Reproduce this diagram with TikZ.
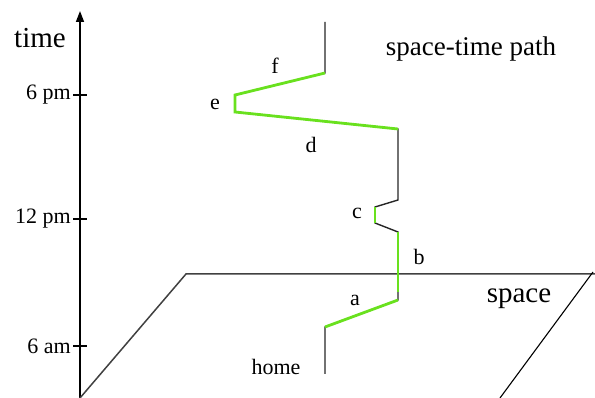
\documentclass[tikz,border=0pt]{standalone}
\usepackage{fontspec}
\setmainfont{Liberation Serif}
\usepackage{tikz}
\usetikzlibrary{arrows.meta}
\definecolor{PathGreen}{RGB}{105,225,30}
\tikzset{
	axisline/.style={line width=1.6pt},
	pathline/.style={line width=1.4pt, black!85},
	active/.style={line width=2.8pt, PathGreen},
	biglbl/.style={font=\fontsize{29}{34}\selectfont, inner sep=0pt},
	lbl/.style={font=\fontsize{22}{26}\selectfont, inner sep=0pt}
}

\begin{document}
\begin{tikzpicture}[x=1pt, y=-1pt]
			\useasboundingbox (0,0) rectangle (595,398);
			% time axis and ticks
			\draw[axisline, -{Triangle[length=11pt, width=8pt]}] (80,398) -- (80,11);
			\foreach \ty/\tl in {95/6 pm, 219/12 pm, 346/6 am} {
				\draw[line width=1.2pt] (73,\ty) -- (87,\ty);
				\node[lbl, anchor=east] (tick\ty) at (71,\ty) {\tl};
			}
			\node[biglbl] (timelbl) at (40,38) {time};
			% space plane
			\draw[line width=1.5pt, black!75] (80,398) -- (186,274) -- (595,274);
			\draw[line width=1.1pt] (593,272) -- (500,398);
			\node[biglbl] (spacelbl) at (519,299) {space};
			% path points
			\coordinate (home) at (325,374);
			\coordinate (p1) at (325,327);
			\coordinate (p2) at (398,300);
			\coordinate (p3) at (398,292);
			\coordinate (p4) at (398,232);
			\coordinate (p5) at (375,223);
			\coordinate (p6) at (375,207);
			\coordinate (p7) at (398,200);
			\coordinate (p8) at (398,129);
			\coordinate (p9) at (235,112);
			\coordinate (p10) at (235,95);
			\coordinate (p11) at (325,73);
			\coordinate (top) at (325,22);
			\draw[pathline] (home) -- (p1) -- (p2) -- (p3) -- (p4) -- (p5) -- (p6) -- (p7) -- (p8) -- (p9) -- (p10) -- (p11) -- (top);
			% active parts
			\draw[active] (p1) -- (p2);
			\draw[active] (p3) -- (p4);
			\draw[active] (p5) -- (p6);
			\draw[active, yshift=-0.8pt] (p8) -- (p9) -- (p10) -- (p11);
			% labels
			\node[lbl] (home lbl) at (276,367) {home};
			\node[lbl] (a) at (355,300) {a};
			\node[lbl] (b) at (419,257) {b};
			\node[lbl] (c) at (357,213) {c};
			\node[lbl] (d) at (311,145) {d};
			\node[lbl] (e) at (215,104) {e};
			\node[lbl] (f) at (275,66) {f};
			\node[biglbl, font=\fontsize{27}{32}\selectfont] (title) at (471,49) {space-time path};
		\end{tikzpicture}
\end{document}
